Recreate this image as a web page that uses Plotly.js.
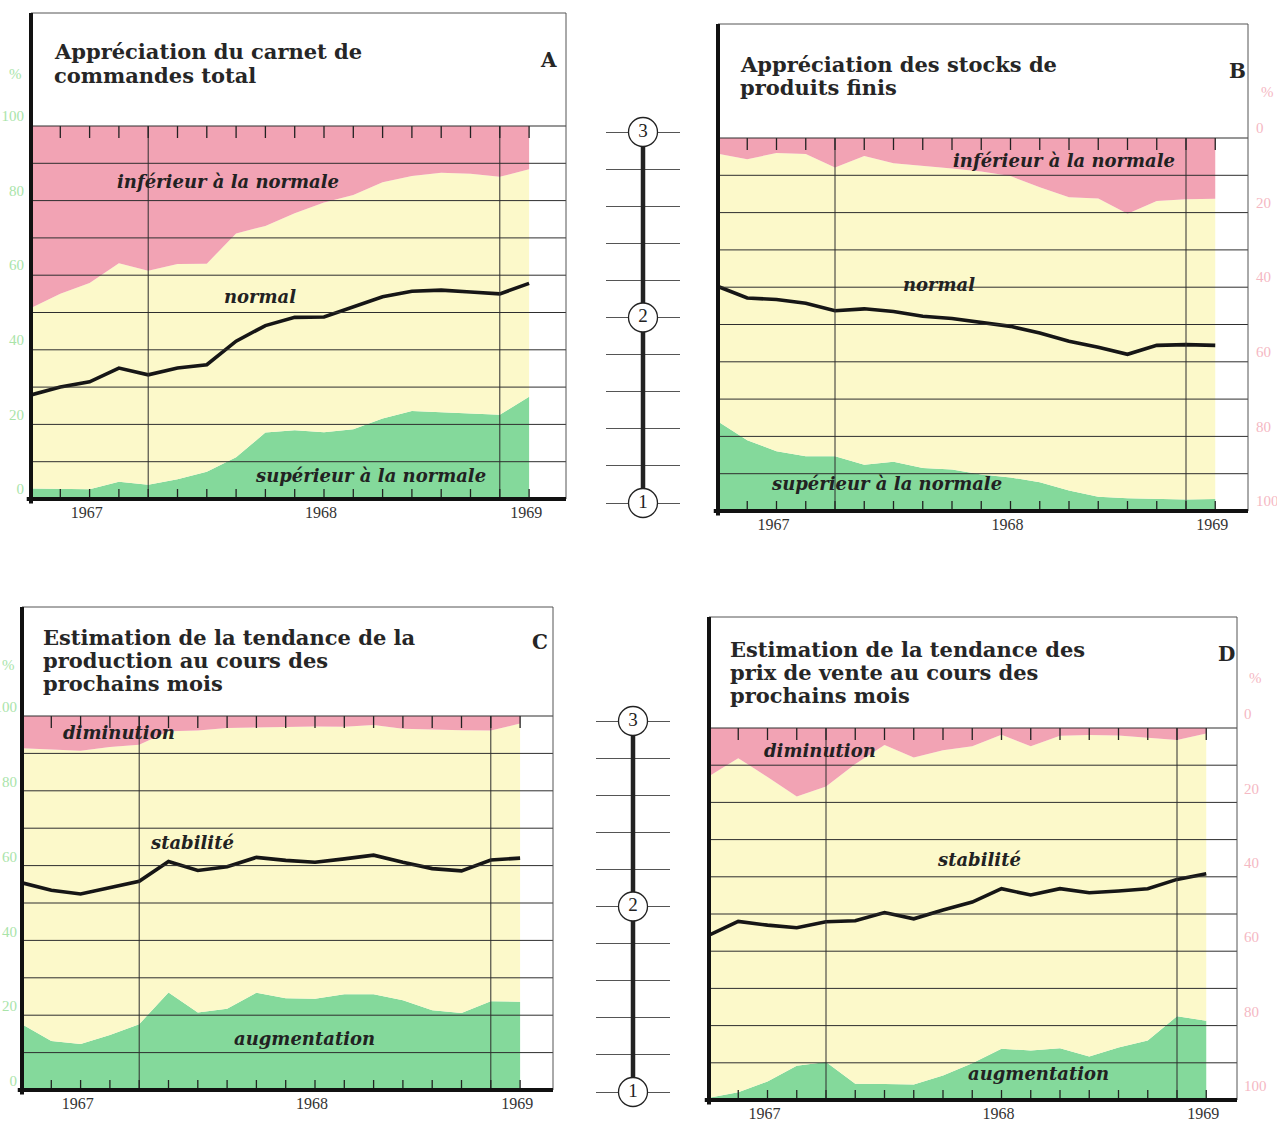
<!DOCTYPE html>
<html>
<head>
<meta charset="utf-8">
<script src="https://cdn.plot.ly/plotly-3.0.1.min.js"></script>
<style>html,body{margin:0;padding:0;background:#fff;}#chart{width:1277px;height:1126px;}</style>
</head>
<body>
<div id="chart"></div>
<script>
// ---------------- DATA ----------------
const periods = [0,1,2,3,4,5,6,7,8,9,10,11,12,13,14,15,16,17];
const yearLabels = ['1967','1968','1969'];
const yearTickPos = [1.9, 9.9, 16.9];
const pctTicks = [0,20,40,60,80,100];
const scaleLevels = [1,2,3];

// A : Appréciation du carnet de commandes total (cumulative % from bottom)
const A_superieur = [2.8,2.7,2.6,4.6,3.8,5.3,7.3,11.2,17.8,18.4,17.9,18.7,21.6,23.6,23.3,23.0,22.6,27.4];
const A_normalTop = [51.2,55.0,57.9,63.2,61.2,63.0,63.1,71.2,73.2,76.6,79.5,81.5,84.9,86.6,87.5,87.2,86.4,88.4];
const A_indice    = [27.9,30.0,31.4,35.1,33.3,35.1,36.0,42.3,46.5,48.7,48.8,51.4,54.2,55.7,56.0,55.5,55.0,57.8];

// B : Appréciation des stocks de produits finis
const B_superieur = [24.0,19.0,16.0,14.7,14.7,12.4,13.2,11.5,11.1,9.8,9.0,7.7,5.5,3.8,3.4,3.2,3.1,3.2];
const B_normalTop = [95.8,94.3,96.0,95.7,92.1,95.2,93.2,92.4,91.8,91.0,89.8,86.8,84.1,83.8,79.7,83.1,83.6,83.7];
const B_indice    = [60.2,57.1,56.7,55.7,53.7,54.2,53.5,52.2,51.6,50.6,49.5,47.7,45.5,43.9,42.0,44.4,44.6,44.4];

// C : Estimation de la tendance de la production
const C_augmentation = [17.6,13.1,12.3,14.7,17.6,26.1,20.7,21.7,26.0,24.5,24.4,25.6,25.6,24.0,21.3,20.6,23.7,23.6];
const C_stabiliteTop = [91.4,91.0,90.7,91.7,92.3,95.9,96.1,96.8,96.9,97.1,97.2,97.1,97.6,96.6,96.3,96.2,96.1,98.0];
const C_indice       = [55.4,53.4,52.4,54.0,55.8,61.1,58.7,59.7,62.2,61.4,60.9,61.8,62.8,60.9,59.2,58.6,61.5,62.0];

// D : Estimation de la tendance des prix de vente
const D_augmentation = [0.6,2.1,5.0,9.2,10.2,4.4,4.3,4.2,6.6,9.9,13.8,13.3,13.9,11.7,14.1,16.0,22.5,21.3];
const D_stabiliteTop = [87.0,91.9,86.8,81.6,84.3,90.3,95.4,92.1,94.0,95.1,98.2,95.1,97.9,98.1,98.0,97.4,96.8,98.5];
const D_indice       = [44.3,48.0,47.0,46.3,47.9,48.2,50.4,48.7,51.1,53.2,56.8,55.1,56.8,55.7,56.2,56.8,59.3,60.8];

// ---------------- LAYOUT HELPERS ----------------
const W = 1277, H = 1126;
const px = x => x / W;
const py = y => 1 - y / H;

const RED = '#f2a3b4', YELLOW = '#fcf9ca', GREEN = '#84d99b';
const TITLE_FONT = {family:'DejaVu Serif, serif', size:21, color:'#262626', weight:'bold'};
const LABEL_FONT = {family:'DejaVu Serif, serif', size:18, color:'#222', weight:'bold', style:'italic'};

const panels = [
  {green:A_superieur, top:A_normalTop, line:A_indice,
   g:{left:31, sp:29.3, right:566, top:126, bot:499, titleTop:13},
   side:'left', reversed:false, labelColor:'#a9e4a9', shift:10, standoff:6,
   title:['Appréciation du carnet de','commandes total'], titleX:52, titleY:[52,76],
   letter:{t:'A', x:548, y:60}, pct:{x:15, y:74},
   labels:[['inférieur à la normale',228,181],['normal',260,296],['supérieur à la normale',370,475]]},
  {green:B_superieur, top:B_normalTop, line:B_indice,
   g:{left:718, sp:29.25, right:1248, top:138, bot:511, titleTop:24},
   side:'right', reversed:true, labelColor:'#f5b8c3', shift:10, standoff:7,
   title:['Appréciation des stocks de','produits finis'], titleX:738, titleY:[65,88],
   letter:{t:'B', x:1237, y:71}, pct:{x:1267, y:92},
   labels:[['inférieur à la normale',1064,160],['normal',939,284],['supérieur à la normale',886,483]]},
  {green:C_augmentation, top:C_stabiliteTop, line:C_indice,
   g:{left:22, sp:29.3, right:553, top:716, bot:1090, titleTop:607},
   side:'left', reversed:false, labelColor:'#a9e4a9', shift:9, standoff:4,
   title:['Estimation de la tendance de la','production au cours des','prochains mois'], titleX:41, titleY:[637,660,683],
   letter:{t:'C', x:540, y:642}, pct:{x:8, y:665},
   labels:[['diminution',119,732],['stabilité',192,842],['augmentation',304,1038]]},
  {green:D_augmentation, top:D_stabiliteTop, line:D_indice,
   g:{left:709, sp:29.25, right:1237, top:728, bot:1100, titleTop:617},
   side:'right', reversed:true, labelColor:'#f5b8c3', shift:14, standoff:6,
   title:['Estimation de la tendance des','prix de vente au cours des','prochains mois'], titleX:728, titleY:[649,672,695],
   letter:{t:'D', x:1226, y:654}, pct:{x:1255, y:678},
   labels:[['diminution',820,750],['stabilité',979,860],['augmentation',1038,1073]]}
];

const scales = [
  {left:606, right:680, top:132, bot:503},
  {left:596, right:670, top:721, bot:1092}
];

const traces = [], shapes = [], annotations = [];
const layout = {width:W, height:H, margin:{l:0,r:0,t:0,b:0}, paper_bgcolor:'#ffffff',
  plot_bgcolor:'rgba(0,0,0,0)', showlegend:false, shapes, annotations, hovermode:false};

panels.forEach((p, k) => {
  const n = k === 0 ? '' : String(k + 1);
  const xa = 'x' + n, ya = 'y' + n;
  const g = p.g;
  const xmax = (g.right - g.left) / g.sp;
  const Ttop = (g.bot - g.titleTop) / (g.bot - g.top);
  const pxPerPct = (g.bot - g.top) / 100;

  layout['xaxis' + n] = {
    domain:[px(g.left), px(g.right)], range:[0, xmax], anchor:ya,
    tickmode:'array', tickvals:yearTickPos, ticktext:yearLabels, ticks:'',
    showgrid:false, zeroline:false, showline:false,
    tickfont:{family:'Liberation Serif, serif', size:16, color:'#333'}, ticklabelstandoff:2,
    fixedrange:true
  };
  layout['yaxis' + n] = {
    domain:[py(g.bot), py(g.top)], range:[0, 100], anchor:xa, side:p.side,
    tickmode:'array', tickvals:pctTicks,
    ticktext: p.reversed ? pctTicks.map(v => String(100 - v)) : pctTicks.map(String),
    ticks:'', showgrid:false, zeroline:false, showline:false,
    tickfont:{family:'Liberation Serif, serif', size:15, color:p.labelColor},
    ticklabelshift:-p.shift, ticklabelstandoff:p.standoff, fixedrange:true
  };

  const base = {x:periods, xaxis:xa, yaxis:ya, type:'scatter', mode:'lines', hoverinfo:'skip'};
  traces.push(Object.assign({}, base, {y:p.green, line:{width:0, color:GREEN}, fill:'tozeroy', fillcolor:GREEN}));
  traces.push(Object.assign({}, base, {y:p.top, line:{width:0, color:YELLOW}, fill:'tonexty', fillcolor:YELLOW}));
  traces.push(Object.assign({}, base, {y:periods.map(() => 100), line:{width:0, color:RED}, fill:'tonexty', fillcolor:RED}));
  traces.push(Object.assign({}, base, {y:p.line, line:{width:3.6, color:'#161616'}}));

  const gl = {color:'#2e2e2e', width:1};
  // horizontal grid lines (10 % steps)
  for (let v = 10; v < 100; v += 10) {
    shapes.push({type:'line', xref:xa, yref:ya, x0:0, x1:xmax, y0:v, y1:v, layer:'above', line:gl});
  }
  // vertical grid lines
  [4, 16].forEach(v => shapes.push({type:'line', xref:xa, yref:ya, x0:v, x1:v, y0:0, y1:100, layer:'above', line:gl}));
  // period ticks at top (hanging) and bottom (standing)
  periods.slice(1).forEach(i => {
    shapes.push({type:'line', xref:xa, yref:ya, x0:i, x1:i, y0:100, y1:100 - 12 / pxPerPct, layer:'above', line:{color:'#222', width:1.3}});
    shapes.push({type:'line', xref:xa, yref:ya, x0:i, x1:i, y0:0, y1:10 / pxPerPct, layer:'above', line:{color:'#222', width:1.3}});
  });
  const dx = xa + ' domain', dy = ya + ' domain';
  // top edge of the data area
  shapes.push({type:'line', xref:dx, yref:dy, x0:0, x1:1, y0:1, y1:1, layer:'above', line:gl});
  // frame with title box
  shapes.push({type:'rect', xref:dx, yref:dy, x0:0, x1:1, y0:0, y1:Ttop, layer:'above', line:{color:'#555', width:1}, fillcolor:'rgba(0,0,0,0)'});
  // thick left and bottom borders
  shapes.push({type:'line', xref:dx, yref:dy, x0:0, x1:0, y0:-0.012, y1:Ttop, layer:'above', line:{color:'#111', width:4}});
  shapes.push({type:'line', xref:dx, yref:dy, x0:-0.008, x1:1, y0:0, y1:0, layer:'above', line:{color:'#111', width:4}});

  // titles
  p.title.forEach((t, i) => annotations.push({xref:'paper', yref:'paper', x:px(p.titleX), y:py(p.titleY[i]),
    xanchor:'left', yanchor:'middle', text:t, showarrow:false, font:TITLE_FONT}));
  annotations.push({xref:'paper', yref:'paper', x:px(p.letter.x), y:py(p.letter.y), xanchor:'center', yanchor:'middle',
    text:p.letter.t, showarrow:false, font:{family:'DejaVu Serif, serif', size:20, color:'#262626', weight:'bold'}});
  annotations.push({xref:'paper', yref:'paper', x:px(p.pct.x), y:py(p.pct.y), xanchor:'center', yanchor:'middle',
    text:'%', showarrow:false, font:{family:'Liberation Serif, serif', size:15, color:p.labelColor}});
  p.labels.forEach(l => annotations.push({xref:'paper', yref:'paper', x:px(l[1]), y:py(l[2]), xanchor:'center', yanchor:'middle',
    text:l[0], showarrow:false, font:LABEL_FONT}));
});

// middle index scales (1 - 2 - 3)
scales.forEach((s, j) => {
  const n = String(5 + j);
  const unit = (s.bot - s.top) / 2;
  const d = 0.02 * unit;
  layout['xaxis' + n] = {domain:[px(s.left), px(s.right)], range:[-1, 1], visible:false, fixedrange:true, anchor:'y' + n};
  layout['yaxis' + n] = {domain:[py(s.bot + d), py(s.top - d)], range:[0.98, 3.02], anchor:'x' + n,
    showgrid:true, gridcolor:'#555', gridwidth:1, tickmode:'linear', tick0:1, dtick:0.2,
    showticklabels:false, ticks:'', zeroline:false, showline:false, fixedrange:true};
  traces.push({x:scaleLevels.map(() => 0), y:scaleLevels, xaxis:'x' + n, yaxis:'y' + n, type:'scatter',
    mode:'lines+markers+text', text:scaleLevels.map(String), textposition:'middle center',
    textfont:{family:'Liberation Serif, serif', size:19, color:'#222'},
    marker:{size:29, color:'#ffffff', line:{color:'#222', width:1.3}},
    line:{color:'#222', width:4.5}, cliponaxis:false, hoverinfo:'skip'});
});

Plotly.newPlot('chart', traces, layout, {staticPlot:true, displayModeBar:false});
</script>
</body>
</html>
